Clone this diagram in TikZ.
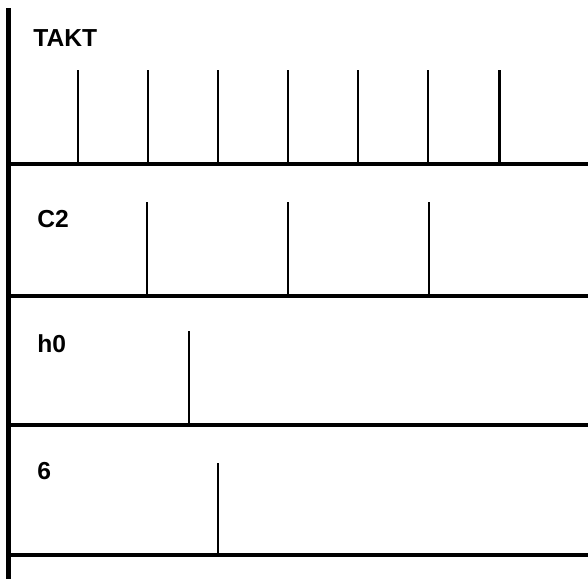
\documentclass[tikz,border=0pt]{standalone}
\usepackage{fontspec}
\setmainfont{Liberation Sans}
\usepackage{tikz}
\tikzset{
  tframe/.style={black,line width=2.8pt},
  tpulse/.style={black,line width=1.7pt},
  tlabel/.style={font=\bfseries\fontsize{14}{16}\selectfont,anchor=base west,inner sep=0pt},
}

\begin{document}
\begin{tikzpicture}[x=0.02cm,y=-0.02cm]
  \useasboundingbox (0,0) rectangle (588,579);
  % frame: left rail and the four base lines
  \coordinate (top) at (8.5,8);
  \coordinate (bot) at (8.5,579);
  \draw[tframe] (top) -- (bot);
  \foreach \n/\y in {b1/164,b2/296,b3/425,b4/555} {
    \coordinate (\n) at (8.5,\y);
    \draw[tframe] (\n) -- (588,\y);
  }
  % pulses
  \foreach \x in {78,148,218,288,358,428,499}
     \draw[tpulse] (\x,70) -- (\x,164);
  \foreach \x in {147,288,429}
     \draw[tpulse] (\x,202) -- (\x,296);
  \draw[tpulse] (189,331) -- (189,425);
  \draw[tpulse] (218,463) -- (218,555);
  % labels
  \node[tlabel] (takt) at (33,46) {TAKT};
  \node[tlabel] (c2) at (37,227) {C2};
  \node[tlabel] (h0) at (37,352) {h0};
  \node[tlabel] (six) at (37,479) {6};
\end{tikzpicture}
\end{document}
